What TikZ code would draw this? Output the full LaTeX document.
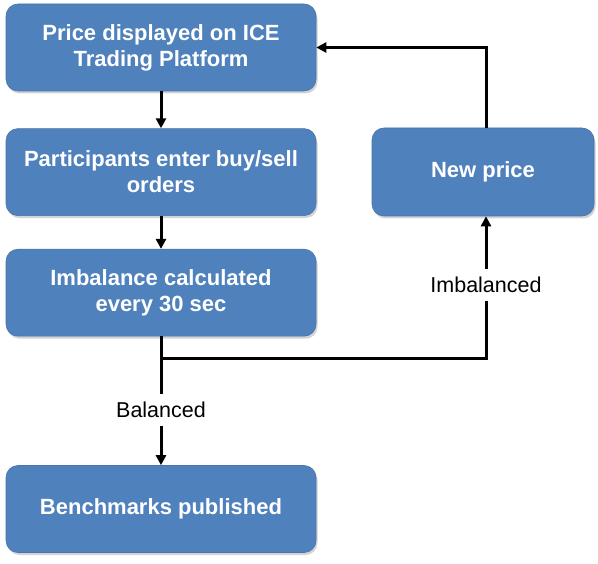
\documentclass[tikz,border=0pt]{standalone}
\usepackage{fontspec}
\setmainfont{Liberation Sans}
\usepackage{tikz}
\usetikzlibrary{arrows.meta, positioning, shadows}
\definecolor{boxblue}{HTML}{4F81BD}
\tikzset{
  block/.style={rectangle, rounded corners=12pt, draw=boxblue!90!black, line width=0.6pt, fill=boxblue, text=white, minimum width=310pt, minimum height=87pt, align=center, font=\fontsize{22}{26}\selectfont\bfseries, drop shadow={shadow xshift=1.5pt, shadow yshift=-2.5pt, opacity=0.35}},
  lbl/.style={font=\fontsize{21.5}{24}\selectfont, inner xsep=2pt, inner ysep=8pt},
  arrow/.style={-{Triangle[length=10pt, width=10pt]}, line width=3pt},
  line/.style={line width=3pt}
}

\begin{document}
\begin{tikzpicture}[x=1pt, y=-1pt]
  \useasboundingbox (0,0) rectangle (598,564);
  \node[block] (price) at (161,47.5) {Price displayed on ICE\\Trading Platform};
  \node[block, below=37pt of price] (orders) {Participants enter buy/sell\\orders};
  \node[block, below=33pt of orders] (calc) {Imbalance calculated\\every 30 sec};
  \node[block, at={(161,509)}] (bench) {Benchmarks published};
  \node[block, minimum width=222pt, minimum height=88pt] (newp) at (483,172) {New price};
  \node[lbl] (bal) at (161,410) {Balanced};
  \node[lbl] (imbl) at (486,285) {Imbalanced};
  \coordinate (split) at (161,359);
  \draw[arrow] (price) -- (orders);
  \draw[arrow] (orders) -- (calc);
  \draw[line] (calc) -- (bal);
  \draw[arrow] (bal) -- (bench);
  \draw[line] (split) -| (imbl);
  \draw[arrow] (imbl) -- (imbl |- newp.south);
  \draw[arrow] (imbl |- newp.north) |- (price);
\end{tikzpicture}
\end{document}
